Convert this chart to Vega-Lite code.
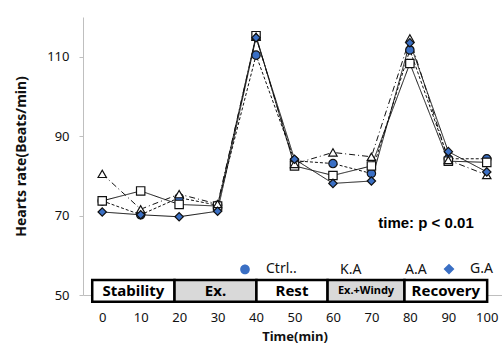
{
  "$schema": "https://vega.github.io/schema/vega-lite/v6.json",
  "width": 423,
  "height": 278,
  "autosize": {"type": "none"},
  "padding": {"left": 83, "top": 17, "right": 0, "bottom": 54},
  "background": "white",
  "config": {
    "view": {"stroke": null},
    "font": "Noto Sans",
    "axis": {"grid": false},
    "axisY": {"labelOverlap": false, "labelFlush": false},
    "axisX": {"labelOverlap": false, "labelFlush": false}
  },
  "resolve": {
    "scale": {"shape": "independent", "fill": "independent"},
    "legend": {"shape": "independent", "fill": "independent"}
  },
  "datasets": {
    "hr": [
      {"time": 0, "series": "Ctrl..", "rate": 73.7},
      {"time": 10, "series": "Ctrl..", "rate": 70.2},
      {"time": 20, "series": "Ctrl..", "rate": 74.5},
      {"time": 30, "series": "Ctrl..", "rate": 72.6},
      {"time": 40, "series": "Ctrl..", "rate": 110.4},
      {"time": 50, "series": "Ctrl..", "rate": 83.8},
      {"time": 60, "series": "Ctrl..", "rate": 83.1},
      {"time": 70, "series": "Ctrl..", "rate": 80.6},
      {"time": 80, "series": "Ctrl..", "rate": 111.7},
      {"time": 90, "series": "Ctrl..", "rate": 84.3},
      {"time": 100, "series": "Ctrl..", "rate": 84.3},
      {"time": 0, "series": "K.A", "rate": 73.7},
      {"time": 10, "series": "K.A", "rate": 76.2},
      {"time": 20, "series": "K.A", "rate": 72.8},
      {"time": 30, "series": "K.A", "rate": 72.4},
      {"time": 40, "series": "K.A", "rate": 115.3},
      {"time": 50, "series": "K.A", "rate": 82.5},
      {"time": 60, "series": "K.A", "rate": 80.1},
      {"time": 70, "series": "K.A", "rate": 82.5},
      {"time": 80, "series": "K.A", "rate": 108.3},
      {"time": 90, "series": "K.A", "rate": 83.7},
      {"time": 100, "series": "K.A", "rate": 83.4},
      {"time": 0, "series": "A.A", "rate": 80.5},
      {"time": 10, "series": "A.A", "rate": 71.6},
      {"time": 20, "series": "A.A", "rate": 75.4},
      {"time": 30, "series": "A.A", "rate": 72.9},
      {"time": 40, "series": "A.A", "rate": 115.0},
      {"time": 50, "series": "A.A", "rate": 83.0},
      {"time": 60, "series": "A.A", "rate": 85.9},
      {"time": 70, "series": "A.A", "rate": 84.8},
      {"time": 80, "series": "A.A", "rate": 114.6},
      {"time": 90, "series": "A.A", "rate": 84.0},
      {"time": 100, "series": "A.A", "rate": 80.2},
      {"time": 0, "series": "G.A", "rate": 70.9},
      {"time": 10, "series": "G.A", "rate": 70.2},
      {"time": 20, "series": "G.A", "rate": 69.7},
      {"time": 30, "series": "G.A", "rate": 71.1},
      {"time": 40, "series": "G.A", "rate": 114.8},
      {"time": 50, "series": "G.A", "rate": 84.2},
      {"time": 60, "series": "G.A", "rate": 78.1},
      {"time": 70, "series": "G.A", "rate": 78.7},
      {"time": 80, "series": "G.A", "rate": 113.5},
      {"time": 90, "series": "G.A", "rate": 86.1},
      {"time": 100, "series": "G.A", "rate": 81.0}
    ],
    "phases": [
      {"phase": "Stability", "start": -2.6, "end": 18.8, "shaded": false},
      {"phase": "Ex.", "start": 18.8, "end": 40.1, "shaded": true},
      {"phase": "Rest", "start": 40.1, "end": 58.6, "shaded": false},
      {"phase": "Ex.+Windy", "start": 58.6, "end": 78.6, "shaded": true},
      {"phase": "Recovery", "start": 78.6, "end": 100.1, "shaded": false}
    ],
    "note": [
      {"text": "time:  p < 0.01"}
    ]
  },
  "layer": [
    {
      "data": {"name": "hr"},
      "mark": {"type": "line", "color": "#111111", "strokeWidth": 1},
      "encoding": {
        "x": {
          "field": "time", "type": "quantitative", "title": "Time(min)",
          "scale": {"domain": [-5, 105], "nice": false, "zero": false},
          "axis": {
            "values": [0, 10, 20, 30, 40, 50, 60, 70, 80, 90, 100],
            "tickSize": 0, "labelPadding": 16, "domainColor": "#bfbfbf",
            "labelFontSize": 13, "labelColor": "#111111", "labelFlush": false,
            "labelOverlap": false,
            "titleFontSize": 13, "titleFontWeight": "bold", "titleColor": "#111111",
            "titlePadding": 6
          }
        },
        "y": {
          "field": "rate", "type": "quantitative", "title": "Hearts rate(Beats/min)",
          "scale": {"domain": [50, 120], "nice": false, "zero": false},
          "axis": {
            "values": [50, 60, 70, 80, 90, 100, 110, 120],
            "tickSize": 4, "tickColor": "#bfbfbf", "domainColor": "#bfbfbf",
            "labelPadding": 10, "labelFontSize": 13, "labelColor": "#111111",
            "labelOverlap": false, "labelFlush": false,
            "titleFontSize": 14, "titleFontWeight": "bold", "titleColor": "#111111",
            "titlePadding": 18
          }
        },
        "detail": {"field": "series", "type": "nominal"},
        "strokeDash": {
          "condition": [
            {"test": "datum.series == 'Ctrl..'", "value": [3, 2]},
            {"test": "datum.series == 'A.A'", "value": [6, 3, 1, 3]}
          ],
          "value": [1, 0]
        }
      }
    },
    {
      "data": {"name": "hr"},
      "mark": {"type": "point", "filled": true, "size": 70, "stroke": "#111111", "strokeWidth": 1.2, "opacity": 1},
      "encoding": {
        "x": {"field": "time", "type": "quantitative", "title": "Time(min)"},
        "y": {"field": "rate", "type": "quantitative", "title": "Hearts rate(Beats/min)"},
        "shape": {
          "field": "series", "type": "nominal",
          "scale": {"domain": ["Ctrl..", "K.A", "A.A", "G.A"], "range": ["circle", "square", "triangle-up", "diamond"]},
          "legend": null
        },
        "fill": {
          "condition": {"test": "datum.series == 'Ctrl..' || datum.series == 'G.A'", "value": "#3a6fc4"},
          "value": "white"
        }
      }
    },
    {
      "data": {"name": "hr"},
      "mark": {"type": "point", "filled": true, "size": 70, "opacity": 0, "stroke": "#111111", "strokeWidth": 1.2},
      "encoding": {
        "x": {"field": "time", "type": "quantitative", "title": "Time(min)"},
        "y": {"field": "rate", "type": "quantitative", "title": "Hearts rate(Beats/min)"},
        "shape": {
          "field": "series", "type": "nominal",
          "scale": {
            "domain": ["Ctrl..", "K.A", "A.A", "G.A"],
            "range": [
              "M-1,0H-0.86M-0.76,0H-0.62M-0.52,0H-0.38M0.38,0H0.52M0.62,0H0.76M0.86,0H1M0.3,0A0.3,0.3,0,1,1,-0.3,0A0.3,0.3,0,1,1,0.3,0Z",
              "M-1,0H-0.3M0.3,0H1M-0.28,-0.28H0.28V0.28H-0.28Z",
              "M-1,0H-0.78M-0.68,0H-0.62M-0.52,0H-0.34M0.34,0H0.52M0.62,0H0.68M0.78,0H1M0,-0.34L0.32,0.24L-0.32,0.24Z",
              "M-1,0H-0.34M0.34,0H1M0,-0.34L0.34,0L0,0.34L-0.34,0Z"
            ]
          },
          "legend": {
            "orient": "none", "legendX": 145, "legendY": 235, "direction": "horizontal",
            "title": null, "symbolSize": 1024, "labelFontSize": 14, "labelOffset": 4,
            "columnPadding": 3, "labelColor": "#111111", "symbolStrokeWidth": 1.2,
            "symbolStrokeColor": "#111111", "symbolOpacity": 1
          }
        },
        "fill": {
          "field": "series", "type": "nominal",
          "scale": {"domain": ["Ctrl..", "K.A", "A.A", "G.A"], "range": ["#3a6fc4", "white", "white", "#3a6fc4"]},
          "legend": {
            "orient": "none", "legendX": 145, "legendY": 235, "direction": "horizontal",
            "title": null, "symbolSize": 1024, "labelFontSize": 14, "labelOffset": 4,
            "columnPadding": 3, "labelColor": "#111111", "symbolStrokeWidth": 1.2,
            "symbolStrokeColor": "#111111", "symbolOpacity": 1
          }
        }
      }
    },
    {
      "data": {"name": "phases"},
      "mark": {"type": "rect", "stroke": "#000000", "strokeWidth": 2.5},
      "encoding": {
        "x": {"field": "start", "type": "quantitative", "title": "Time(min)"},
        "x2": {"field": "end"},
        "y": {"datum": 53.8, "type": "quantitative"},
        "y2": {"datum": 48.3},
        "fill": {"condition": {"test": "datum.shaded", "value": "#d9d9d9"}, "value": "white"}
      }
    },
    {
      "data": {"name": "phases"},
      "transform": [{"calculate": "(datum.start + datum.end) / 2", "as": "mid"}],
      "mark": {"type": "text", "fontWeight": "bold", "color": "#000000", "baseline": "middle"},
      "encoding": {
        "x": {"field": "mid", "type": "quantitative", "title": "Time(min)"},
        "y": {"datum": 51.1, "type": "quantitative"},
        "text": {"field": "phase"},
        "size": {"condition": {"test": "datum.phase == 'Ex.+Windy'", "value": 11}, "value": 15}
      }
    },
    {
      "data": {"name": "note"},
      "mark": {"type": "text", "fontWeight": "bold", "fontSize": 15, "font": "Liberation Sans", "color": "#000000", "baseline": "middle"},
      "encoding": {
        "x": {"datum": 84.2, "type": "quantitative"},
        "y": {"datum": 68.2, "type": "quantitative"},
        "text": {"field": "text"}
      }
    }
  ]
}
